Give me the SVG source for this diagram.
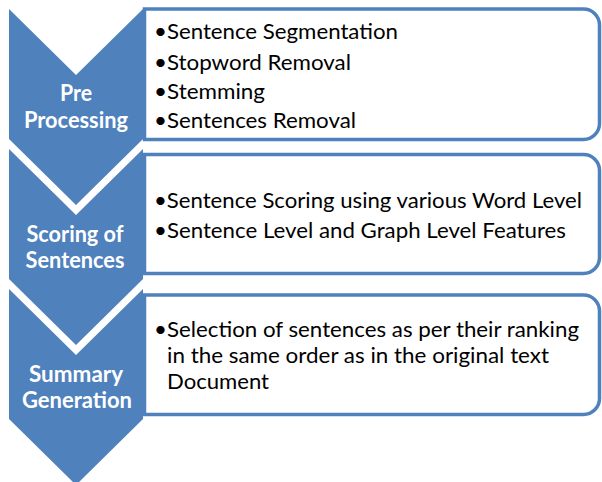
<svg xmlns="http://www.w3.org/2000/svg" width="602" height="482" viewBox="0 0 602 482">
  <style>
    .chev { fill: #4F81BD; }
    .box { fill: #FFFFFF; stroke: #4F81BD; stroke-width: 3.5; }
    .label { font-family: Lato, "Open Sans", "Liberation Sans", sans-serif; font-size: 22px; font-weight: bold; fill: #FFFFFF; text-anchor: middle; }
    .item { font-family: Lato, "Open Sans", "Liberation Sans", sans-serif; font-size: 22px; fill: #000000; }
  </style>
  <rect width="602" height="482" fill="#FFFFFF"/>

  <!-- Step 1: pre processing -->
  <g id="step-preprocessing">
    <path class="chev" d="M9,9 L76,75 L143,9 L143,139 L76,205 L9,139 Z"/>
    <text class="label" x="76" y="100.5" textLength="32" lengthAdjust="spacingAndGlyphs">Pre</text>
    <text class="label" x="76" y="127.5" textLength="104" lengthAdjust="spacingAndGlyphs">Processing</text>
  </g>

  <!-- Step 2: scoring -->
  <g id="step-scoring">
    <path class="chev" d="M9,149 L76,215 L143,149 L143,279 L76,345 L9,279 Z"/>
    <text class="label" x="75" y="241.5" textLength="97" lengthAdjust="spacingAndGlyphs">Scoring of</text>
    <text class="label" x="75" y="267.5" textLength="99" lengthAdjust="spacingAndGlyphs">Sentences</text>
  </g>

  <!-- Step 3: summary -->
  <g id="step-summary">
    <path class="chev" d="M9,289 L76,355 L143,289 L143,419 L76,485 L9,419 Z"/>
    <text class="label" x="76" y="382" textLength="94" lengthAdjust="spacingAndGlyphs">Summary</text>
    <text class="label" x="77" y="408" textLength="110" lengthAdjust="spacingAndGlyphs">Generation</text>
  </g>

  <!-- Detail panels -->
  <g id="detail-preprocessing">
    <path class="box" d="M144.5,9 H583.5 A16,16 0 0 1 599.5,25 V123.5 A16,16 0 0 1 583.5,139.5 H144.5 Z"/>
    <text class="item" x="154" y="39" textLength="244" lengthAdjust="spacingAndGlyphs">•Sentence Segmentation</text>
    <text class="item" x="154" y="69.5" textLength="197" lengthAdjust="spacingAndGlyphs">•Stopword Removal</text>
    <text class="item" x="154" y="98.5" textLength="111" lengthAdjust="spacingAndGlyphs">•Stemming</text>
    <text class="item" x="154" y="128" textLength="202" lengthAdjust="spacingAndGlyphs">•Sentences Removal</text>
  </g>

  <g id="detail-scoring">
    <path class="box" d="M144.5,154.5 H583.5 A16,16 0 0 1 599.5,170.5 V257.5 A16,16 0 0 1 583.5,273.5 H144.5 Z"/>
    <text class="item" x="154" y="208" textLength="428" lengthAdjust="spacingAndGlyphs">•Sentence Scoring using various Word Level</text>
    <text class="item" x="154" y="238" textLength="412" lengthAdjust="spacingAndGlyphs">•Sentence Level and Graph Level Features</text>
  </g>

  <g id="detail-summary">
    <path class="box" d="M144.5,295 H583.5 A16,16 0 0 1 599.5,311 V398.5 A16,16 0 0 1 583.5,414.5 H144.5 Z"/>
    <text class="item" x="154" y="337" textLength="425" lengthAdjust="spacingAndGlyphs">•Selection of sentences as per their ranking</text>
    <text class="item" x="167" y="363" textLength="382" lengthAdjust="spacingAndGlyphs">in the same order as in the original text</text>
    <text class="item" x="167" y="389" textLength="102" lengthAdjust="spacingAndGlyphs">Document</text>
  </g>

  <!-- The chevrons carry the flow; no separate connector lines -->
  <g id="connectors"/>
</svg>
